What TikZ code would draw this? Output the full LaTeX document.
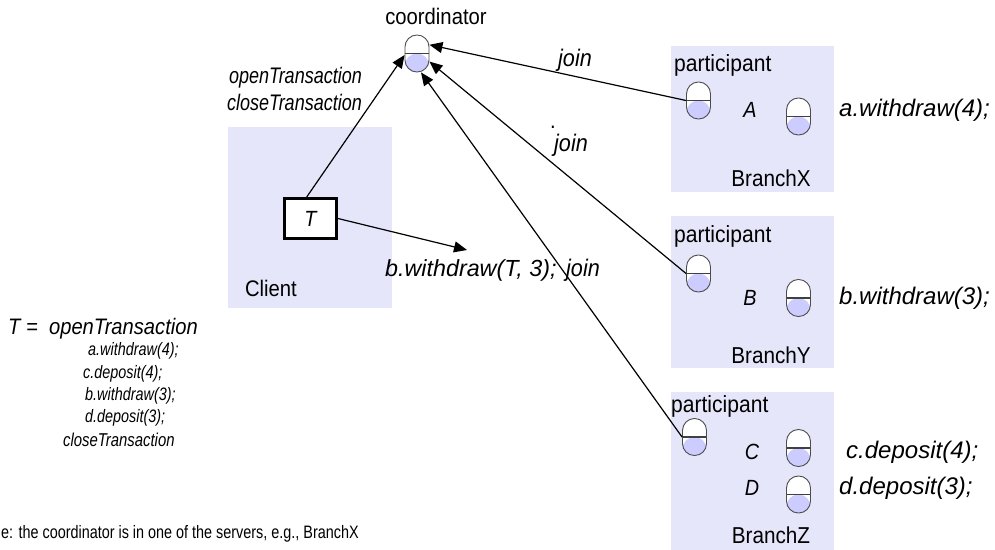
\documentclass[tikz,border=0pt]{standalone}
\usepackage{fontspec}
\setmainfont[FakeStretch=0.9]{Liberation Sans}
\newfontfamily\wideit[FakeStretch=1.0]{Liberation Sans}
\newfontfamily\condf[FakeStretch=0.8]{Liberation Sans}
\usetikzlibrary{arrows.meta}
\definecolor{boxfill}{RGB}{230,230,250}
\definecolor{capfill}{RGB}{204,204,255}
\newcommand\fsz[1]{\fontsize{#1}{#1}\selectfont}
\tikzset{
  box/.style={rectangle, fill=boxfill, inner sep=0pt},
  capsule/.style={rectangle, rounded corners=11.9pt, minimum width=24pt, minimum height=37pt,
    inner sep=0pt, draw=black!70, line width=0.9pt, fill=white,
    path picture={\fill[capfill] (path picture bounding box.west) rectangle (path picture bounding box.south east);
      \draw[black!75, line width=1.1pt] (path picture bounding box.west) -- (path picture bounding box.east);}},
  lbl/.style={inner sep=0pt, font=\fsz{22.5}},
  ilbl/.style={inner sep=0pt, font=\wideit\fsz{24}\itshape},
  jlbl/.style={inner sep=0pt, font=\fsz{24}\itshape},
  slbl/.style={inner sep=0pt, font=\condf\fsz{18}\itshape},
  conn/.style={line width=1.2pt, -{Triangle[length=13pt,width=11pt]}},
  tbox/.style={rectangle, draw, line width=3pt, minimum width=52pt, minimum height=40pt, fill=white, inner sep=0pt, font=\fsz{22}\itshape}
}
\begin{document}
\begin{tikzpicture}[x=1pt,y=-1pt]
\useasboundingbox (0,0) rectangle (995,549);
% boxes
\node[box, minimum width=164pt, minimum height=181pt] (client) at (310,217.5) {};
\node[box, minimum width=163pt, minimum height=146pt] (bx) at (752.5,119) {};
\node[box, minimum width=163pt, minimum height=152pt] (by) at (752.5,292) {};
\node[box, minimum width=163pt, minimum height=160pt] (bz) at (752.5,472) {};
% coordinator
\node[lbl, font=\fsz{22.5}] (coordlbl) at (436,16) {coordinator};
\node[capsule] (coord) at (417,53.5) {};
% client
\node[tbox] (T) at (310.5,218.5) {T};
\node[lbl] (clientlbl) at (271,288) {Client};
\node[jlbl, font=\condf\fsz{22.5}\itshape, anchor=east] (open) at (362,78) {openTransaction};
\node[jlbl, font=\condf\fsz{22.5}\itshape, anchor=east] (close) at (362,102) {closeTransaction};
\node[ilbl, font=\wideit\fsz{23.3}\itshape, anchor=west] (bwT) at (385,270) {b.withdraw(T, 3);};
\coordinate (bwTend) at (467,250);
% branch X
\node[lbl, font=\fsz{23.4}, anchor=west] (px) at (674,65) {participant};
\node[capsule] (pxc) at (698.5,100.5) {};
\node[jlbl, font=\fsz{22}\itshape] (A) at (750,110) {A};
\node[capsule] (ac) at (798.5,116.5) {};
\node[ilbl, anchor=west] (aw) at (839,110) {a.withdraw(4);};
\node[lbl, font=\fsz{23}] (bxl) at (771,178) {BranchX};
% branch Y
\node[lbl, font=\fsz{23.4}, anchor=west] (py) at (674,236) {participant};
\node[capsule] (pyc) at (698.5,273.5) {};
\node[jlbl, font=\fsz{22}\itshape] (B) at (750,298) {B};
\node[capsule] (bc) at (798.5,298) {};
\node[ilbl, anchor=west] (bw) at (839,298) {b.withdraw(3);};
\node[lbl, font=\fsz{23}] (byl) at (771,355) {BranchY};
% branch Z
\node[lbl, font=\fsz{23.4}, anchor=west] (pz) at (671,406) {participant};
\node[capsule] (pzc) at (694.5,437) {};
\node[jlbl, font=\fsz{22}\itshape] (C) at (752,452) {C};
\node[capsule] (cc) at (798.5,448) {};
\node[ilbl, anchor=west] (cd) at (846,452) {c.deposit(4);};
\node[jlbl, font=\fsz{22}\itshape] (D) at (752,488) {D};
\node[capsule] (dc) at (798.5,494.5) {};
\node[ilbl, anchor=west] (dd) at (839,488) {d.deposit(3);};
\node[lbl, font=\fsz{23}] (bzl) at (771,535) {BranchZ};
% joins
\node[jlbl] (j1) at (575,60) {join};
\node[lbl] (dot) at (553,127) {.};
\node[jlbl] (j2) at (571,145) {join};
\node[jlbl] (j3) at (583,270) {join};
% transaction text
\node[jlbl, font=\fsz{22.4}\itshape, anchor=west] (t0) at (8,329) {T =\ \ openTransaction};
\node[slbl, anchor=west] (t1) at (88,351) {a.withdraw(4);};
\node[slbl, anchor=west] (t2) at (83,374) {c.deposit(4);};
\node[slbl, anchor=west] (t3) at (85,396) {b.withdraw(3);};
\node[slbl, anchor=west] (t4) at (85,418) {d.deposit(3);};
\node[slbl, font=\condf\fsz{18.6}\itshape, anchor=west] (t5) at (63,440) {closeTransaction};
\node[lbl, font=\condf\fsz{18}, anchor=base west] (note) at (1,538) {e: the coordinator is in one of the servers, e.g., BranchX};
% connectors
\draw[conn] (T.100) -- (coord.187);
\draw[conn] (T.east) -- (bwTend);
\draw[conn] (pxc.west) -- (coord.35);
\draw[conn] (pyc.west) -- (coord.-33);
\draw[conn] (pzc.west) -- (coord.-78);
\end{tikzpicture}
\end{document}
